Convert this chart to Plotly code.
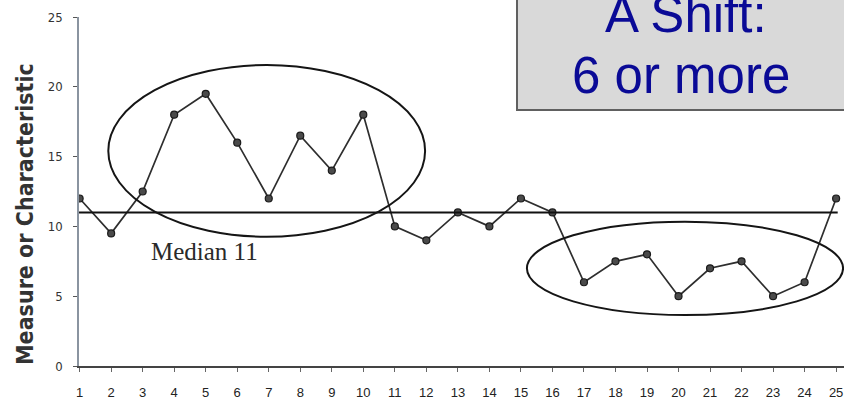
import plotly.graph_objects as go

# ---- data ----
samples = list(range(1, 26))
values = [12, 9.5, 12.5, 18, 19.5, 16, 12, 16.5, 14, 18,
          10, 9, 11, 10, 12, 11, 6, 7.5, 8, 5,
          7, 7.5, 5, 6, 12]
median_value = 11
y_ticks = [0, 5, 10, 15, 20, 25]
y_title = "Measure or Characteristic"
median_label = "Median 11"
box_lines = ["A Shift:", "6 or more"]
# ellipse extents in data units (x0, x1, y0, y1)
ellipse_high = (1.91, 11.96, 9.26, 21.56)
ellipse_low = (15.19, 25.22, 3.65, 10.34)

W, H = 844, 402
L, R, T, B = 79, 0, 17, 36
pw, ph = W - L - R, H - T - B

def px_x(p):
    return (p - L) / pw

def px_y(p):
    return (H - B - p) / ph

fig = go.Figure()
fig.add_trace(go.Scatter(
    x=samples, y=values, mode="lines+markers",
    line=dict(color="#2e2e2e", width=1.7),
    marker=dict(size=7, color="#4a4a4a", line=dict(color="#1a1a1a", width=1.2)),
    showlegend=False, hoverinfo="x+y",
))

shapes = []
shapes.append(dict(type="line", xref="x", yref="y", x0=0.98, x1=25.05,
                   y0=median_value, y1=median_value,
                   line=dict(color="#111111", width=2)))
for (x0, x1, y0, y1) in (ellipse_high, ellipse_low):
    shapes.append(dict(type="circle", xref="x", yref="y", x0=x0, x1=x1, y0=y0, y1=y1,
                       line=dict(color="#151515", width=2)))
shapes.append(dict(type="rect", xref="paper", yref="paper",
                   x0=px_x(517), x1=px_x(860), y0=px_y(110), y1=px_y(-10),
                   fillcolor="#d9d9d9", line=dict(color="#606060", width=2), layer="above"))

annotations = [
    dict(text=y_title, textangle=-90, xref="paper", yref="paper",
         x=px_x(25), y=px_y(214), xanchor="center", yanchor="middle", showarrow=False,
         font=dict(family="Liberation Sans Narrow, Arial Narrow, DejaVu Sans Condensed, sans-serif",
                   size=23, color="#333333", weight="bold")),
    dict(text=median_label, xref="paper", yref="paper",
         x=px_x(204), y=px_y(251), xanchor="center", yanchor="middle", showarrow=False,
         font=dict(family="Liberation Serif, Times New Roman, serif", size=25, color="#2a2a2a")),
    dict(text=box_lines[0], xref="paper", yref="paper",
         x=px_x(686), y=px_y(14), xanchor="center", yanchor="middle", showarrow=False,
         font=dict(family="Liberation Sans, Arial, sans-serif", size=51, color="#0a0a96")),
    dict(text=box_lines[1], xref="paper", yref="paper",
         x=px_x(681), y=px_y(75), xanchor="center", yanchor="middle", showarrow=False,
         font=dict(family="Liberation Sans, Arial, sans-serif", size=51, color="#0a0a96")),
]

fig.update_layout(
    width=W, height=H,
    margin=dict(l=L, r=R, t=T, b=B),
    paper_bgcolor="white", plot_bgcolor="white",
    shapes=shapes, annotations=annotations,
    xaxis=dict(range=[0.98, 25.25], tickmode="array", tickvals=samples,
               ticktext=[str(s) for s in samples],
               showgrid=False, zeroline=False, showline=True,
               linecolor="#444444", linewidth=1.5,
               ticks="outside", ticklen=4, tickcolor="#666666",
               ticklabelstandoff=10,
               tickfont=dict(family="Liberation Sans, Arial, sans-serif", size=13, color="#222222")),
    yaxis=dict(range=[0, 25], tickmode="array", tickvals=y_ticks,
               showgrid=False, zeroline=False, showline=True,
               linecolor="#8a94a0", linewidth=1.5,
               ticks="outside", ticklen=4, tickcolor="#555555",
               ticklabelstandoff=8,
               tickfont=dict(family="Liberation Sans Narrow, Arial Narrow, DejaVu Sans Condensed, sans-serif",
                             size=13, color="#333333")),
)

fig.write_html(
    "out.html",
    config={"displayModeBar": False},
    post_script="document.body.style.margin='0';document.body.style.overflow='hidden';",
)
